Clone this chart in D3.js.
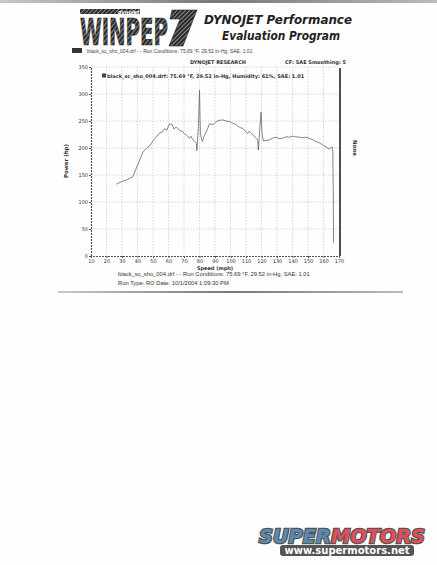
<!DOCTYPE html>
<html>
<head>
<meta charset="utf-8">
<script src="https://cdn.jsdelivr.net/npm/d3@7"></script>
<style>
  body { margin: 0; background: #fff; }
  svg { display: block; }
</style>
</head>
<body>
<svg id="page"></svg>
<script>
// values
var speed = [26.5, 30, 33, 35, 37, 40, 43.6, 46, 48, 51, 54, 56, 57.6, 59, 59.7, 60.8, 62.5, 63.5, 65, 67, 69.3, 70.5, 71.5, 73.6, 74.5, 75.8, 77, 78, 78.3, 79.3, 80, 80.6, 81.8, 83, 84.4, 86.5, 88.6, 90.5, 92.5, 95, 97, 99.3, 101.5, 103.6, 106, 108, 110, 111, 112, 113.3, 115, 116.5, 117.5, 118, 119, 119.7, 120.4, 121.2, 123, 125, 127, 129.3, 131.5, 133.6, 136, 138, 140, 142, 144.3, 146.5, 148.5, 150.7, 152.5, 155, 157, 159.3, 161, 163.6, 165, 165.7, 166, 166.3, 166.5];
var power = [133, 138, 141, 144, 147, 168, 193, 200, 205, 217, 227, 230, 236, 233, 239, 245, 243, 235, 239, 233, 230, 226, 224, 218, 222, 215, 212, 209, 195, 240, 307, 225, 212, 222, 230, 245, 243, 248, 251, 252, 250, 249, 246, 243, 238, 236, 230, 227, 231, 227, 223, 218, 216, 196, 240, 267, 225, 213, 214, 215, 218, 220, 217, 218, 221, 220, 222, 221, 220, 219, 220, 218, 216, 212, 210, 206, 203, 198, 201, 202, 193, 120, 25];

var xTicks = d3.range(10, 171, 10);
var yTicks = d3.range(0, 351, 50);

var runLine = "black_sc_sho_004.drf -   - Run Conditions: 75.69 \u00b0F, 29.52 in-Hg, SAE: 1.01";
var legendText = "black_sc_sho_004.drf: 75.69 \u00b0F, 29.52 in-Hg, Humidity: 61%, SAE: 1.01";
var runType = "Run Type: RO  Date: 10/1/2004 1:09:30 PM";

var W = 437, H = 565;
var svg = d3.select("#page").attr("width", W).attr("height", H)
  .style("font-family", "DejaVu Sans, sans-serif");

svg.append("rect").attr("width", W).attr("height", H).attr("fill", "#fefefe");

var defs = svg.append("defs");
var g1 = defs.append("linearGradient").attr("id", "topband").attr("x1", 0).attr("x2", 1);
g1.append("stop").attr("offset", 0).attr("stop-color", "#c8c8c8");
g1.append("stop").attr("offset", 0.5).attr("stop-color", "#777");
g1.append("stop").attr("offset", 1).attr("stop-color", "#bbb");
var stripes = defs.append("pattern").attr("id", "stripes")
  .attr("width", 3).attr("height", 3).attr("patternUnits", "userSpaceOnUse")
  .attr("patternTransform", "rotate(45)");
stripes.append("rect").attr("width", 3).attr("height", 3).attr("fill", "#2a2a2a");
stripes.append("rect").attr("width", 1).attr("height", 3).attr("fill", "#8a8a8a");

// top band
svg.append("rect").attr("x", 0).attr("y", 0).attr("width", W).attr("height", 3).attr("fill", "url(#topband)");

// logo
var logo = svg.append("g");
logo.append("rect").attr("x", 80).attr("y", 9).attr("width", 60).attr("height", 5).attr("fill", "url(#stripes)");
logo.append("text").attr("x", 118).attr("y", 13.5).attr("font-size", 5).attr("font-weight", "bold")
  .attr("font-style", "italic").attr("fill", "#fff").text("dynojet");
logo.append("text").attr("transform", "translate(80,45) scale(1,1.3)")
  .attr("font-family", "DejaVu Sans Condensed, sans-serif")
  .attr("font-size", 29).attr("font-weight", "bold").attr("textLength", 88)
  .attr("lengthAdjust", "spacingAndGlyphs")
  .attr("fill", "url(#stripes)").attr("stroke", "#222").attr("stroke-width", 0.5).text("WINPEP");
logo.append("path").attr("d", "M172,10 L197,10 L183,46 L169,46 L180,19 L170,19 Z")
  .attr("fill", "url(#stripes)").attr("stroke", "#222").attr("stroke-width", 0.6);

svg.append("text").attr("x", 204).attr("y", 24)
  .attr("font-size", 13).attr("font-weight", "bold").attr("font-style", "italic")
  .attr("textLength", 148).attr("lengthAdjust", "spacingAndGlyphs")
  .attr("fill", "#222").text("DYNOJET Performance");
svg.append("text").attr("x", 222).attr("y", 40)
  .attr("font-size", 13).attr("font-weight", "bold").attr("font-style", "italic")
  .attr("textLength", 118).attr("lengthAdjust", "spacingAndGlyphs")
  .attr("fill", "#222").text("Evaluation Program");

// run conditions row under the header
svg.append("rect").attr("x", 72).attr("y", 48).attr("width", 10).attr("height", 5).attr("fill", "#333");
svg.append("text").attr("x", 87).attr("y", 53).attr("font-size", 5)
  .attr("font-family", "Liberation Sans, Arial, sans-serif").attr("fill", "#444").text(runLine);

// chart
var x = d3.scaleLinear().domain([10, 170]).range([91, 339]);
var y = d3.scaleLinear().domain([0, 350]).range([256, 67]);

var grid = svg.append("g");
grid.selectAll(".vg").data(xTicks.slice(1, -1)).enter().append("line")
  .attr("x1", d => x(d)).attr("x2", d => x(d)).attr("y1", y(350)).attr("y2", y(0))
  .attr("stroke", "#bbb").attr("stroke-width", 0.6).attr("stroke-dasharray", "1.5,1.5");
grid.selectAll(".hg").data(yTicks.slice(1)).enter().append("line")
  .attr("x1", x(10)).attr("x2", x(170)).attr("y1", d => y(d)).attr("y2", d => y(d))
  .attr("stroke", "#bbb").attr("stroke-width", 0.6).attr("stroke-dasharray", "1.5,1.5");

var xAxis = svg.append("g").attr("transform", "translate(0," + y(0) + ")").style("color", "#333")
  .call(d3.axisBottom(x).tickValues(xTicks).tickSize(2).tickPadding(1.5));
var yAxis = svg.append("g").attr("transform", "translate(" + x(10) + ",0)").style("color", "#333")
  .call(d3.axisLeft(y).tickValues(yTicks).tickSize(2).tickPadding(1));
[xAxis, yAxis].forEach(function(a) {
  a.select(".domain").attr("stroke", "#555").attr("stroke-width", 1.2).attr("stroke-dasharray", "2,1");
  a.selectAll(".tick line").attr("stroke", "#555");
  a.selectAll("text").attr("font-size", 5).attr("fill", "#333").attr("font-family", "DejaVu Sans, sans-serif");
});

// right frame
svg.append("line").attr("x1", 340).attr("x2", 340).attr("y1", y(350) + 1).attr("y2", y(0))
  .attr("stroke", "#222").attr("stroke-width", 1.6);

svg.append("text").attr("x", 218).attr("y", 64).attr("text-anchor", "middle")
  .attr("font-size", 5).attr("font-weight", "bold").attr("fill", "#333").text("DYNOJET RESEARCH");
svg.append("text").attr("x", 346).attr("y", 64).attr("text-anchor", "end")
  .attr("font-size", 5).attr("font-weight", "bold").attr("fill", "#333").text("CF: SAE  Smoothing: 5");

svg.append("rect").attr("x", 102).attr("y", 73.5).attr("width", 4).attr("height", 4).attr("fill", "#444");
svg.append("text").attr("x", 107).attr("y", 77.5).attr("font-size", 5).attr("font-weight", "bold")
  .attr("fill", "#333").text(legendText);

svg.append("text").attr("transform", "translate(68,161) rotate(-90)").attr("text-anchor", "middle")
  .attr("font-size", 5.5).attr("font-weight", "bold").attr("fill", "#333").text("Power (hp)");
svg.append("text").attr("transform", "translate(353,148) rotate(90)").attr("text-anchor", "middle")
  .attr("font-size", 5.5).attr("font-weight", "bold").attr("fill", "#333").text("None");
svg.append("text").attr("x", 215).attr("y", 269.5).attr("text-anchor", "middle")
  .attr("font-size", 5).attr("font-weight", "bold").attr("fill", "#333").text("Speed (mph)");

// power curve
var line = d3.line().x((d, i) => x(speed[i])).y(d => y(d));
svg.append("path").datum(power).attr("d", line)
  .attr("fill", "none").attr("stroke", "#666").attr("stroke-width", 0.8);

svg.append("text").attr("x", 118).attr("y", 276).attr("font-size", 5.8)
  .attr("font-family", "Liberation Sans, Arial, sans-serif").attr("fill", "#333").text(runLine);
svg.append("text").attr("x", 118).attr("y", 285).attr("font-size", 5.8)
  .attr("font-family", "Liberation Sans, Arial, sans-serif").attr("fill", "#333").text(runType);

// page rule
svg.append("rect").attr("x", 58).attr("y", 291).attr("width", 345).attr("height", 2).attr("fill", "url(#topband)");

// watermark
var wm = svg.append("g");
wm.append("text").attr("x", 259).attr("y", 543).attr("font-size", 20).attr("font-weight", "bold")
  .attr("font-style", "italic").attr("font-family", "DejaVu Sans, sans-serif")
  .attr("textLength", 166).attr("lengthAdjust", "spacingAndGlyphs")
  .attr("stroke", "#555").attr("stroke-width", 2.5).attr("paint-order", "stroke")
  .selectAll("tspan").data([["SUPER", "#5a88b0"], ["MOTORS", "#e0505a"]]).enter().append("tspan")
  .attr("fill", d => d[1]).text(d => d[0]);
wm.append("rect").attr("x", 280).attr("y", 545).attr("width", 134).attr("height", 11).attr("rx", 3).attr("fill", "#555");
wm.append("text").attr("x", 347).attr("y", 554).attr("text-anchor", "middle").attr("font-size", 10)
  .attr("font-weight", "bold").attr("fill", "#fff").text("www.supermotors.net");
</script>
</body>
</html>
